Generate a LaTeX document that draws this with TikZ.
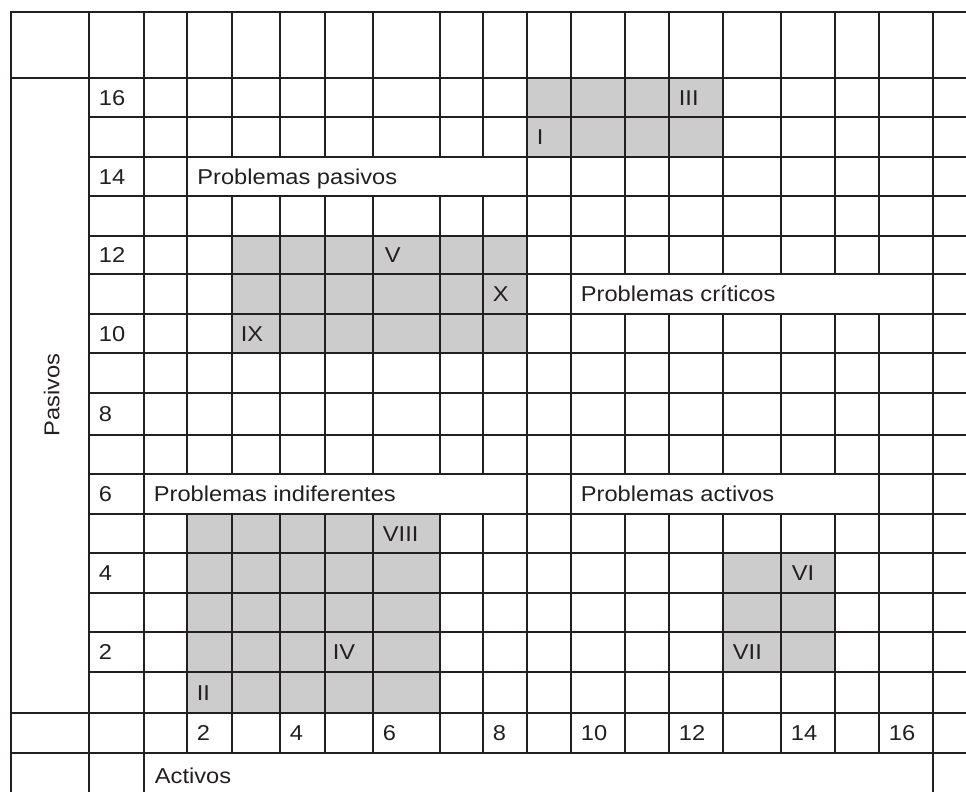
\documentclass[tikz,border=0pt]{standalone}
\usepackage{fontspec}
\newfontfamily\gridfont[FakeStretch=1.1]{Liberation Sans}
\definecolor{cshade}{RGB}{204,204,204}
\definecolor{cink}{RGB}{35,31,32}
\tikzset{matgrid/.style={x=1pt,y=-1pt,line width=1.8pt,line cap=rect,draw=cink,font=\gridfont\fontsize{21.5}{24}\selectfont},
  cell/.style={anchor=west,inner sep=0pt,text height=15.4pt,text depth=0pt,text=cink}}

\begin{document}
\begin{tikzpicture}[matgrid]
    \useasboundingbox (0,0) rectangle (966,792);
    % shaded blocks
    \fill[cshade] (527,78) rectangle (723,157);
    \fill[cshade] (232,236) rectangle (527,353);
    \fill[cshade] (187,514) rectangle (440,713);
    \fill[cshade] (723,553) rectangle (835,672);
    % horizontal rules
    \foreach \y in {12,78,713,753} \draw (11,\y) -- (966,\y);
    \foreach \y in {117,157,196,236,274,314,353,393,435,474,514,553,593,632,672} \draw (89,\y) -- (966,\y);
    % vertical rules, gaps where cells are merged
    \foreach \x in {11,89,144,933} \draw (\x,12) -- (\x,792);
    \draw (187,12) -- (187,474) (187,514) -- (187,753);
    \foreach \x in {232,280,325,373,440,483} \draw (\x,12) -- (\x,157) (\x,196) -- (\x,474) (\x,514) -- (\x,753);
    \foreach \x in {527,571} \draw (\x,12) -- (\x,753);
    \foreach \x in {625,669,723,781,835} \draw (\x,12) -- (\x,274) (\x,314) -- (\x,474) (\x,514) -- (\x,753);
    \draw (879,12) -- (879,274) (879,314) -- (879,753);
    % scales
    \foreach \v/\y in {16/97.5,14/176.5,12/255,10/333.5,8/414,6/494,4/573,2/652} \node[cell] (pas\v) at (98,\y) {\v};
    \foreach \v/\x in {2/196,4/289,6/382,8/492,10/580,12/678,14/790,16/888} \node[cell] (act\v) at (\x,733) {\v};
    \node[cell,anchor=center,rotate=90] (pasivos) at (51.7,395) {Pasivos};
    \node[cell] (activos) at (154,776) {Activos};
    % quadrants
    \node[cell] (qpas) at (196.5,176.5) {Problemas pasivos};
    \node[cell] (qcri) at (580,294) {Problemas críticos};
    \node[cell] (qind) at (153,494) {Problemas indiferentes};
    \node[cell] (qact) at (580,494) {Problemas activos};
    % problems
    \node[cell] (pI)    at (536,137)   {I};
    \node[cell] (pIII)  at (678,97.5)  {III};
    \node[cell] (pV)    at (384,255)   {V};
    \node[cell] (pX)    at (492,294)   {X};
    \node[cell] (pIX)   at (240,333.5) {IX};
    \node[cell] (pVIII) at (382,533.5) {VIII};
    \node[cell] (pIV)   at (332,652)   {IV};
    \node[cell] (pII)   at (196,692.5) {II};
    \node[cell] (pVI)   at (791,573)   {VI};
    \node[cell] (pVII)  at (732,652)   {VII};
\end{tikzpicture}
\end{document}
